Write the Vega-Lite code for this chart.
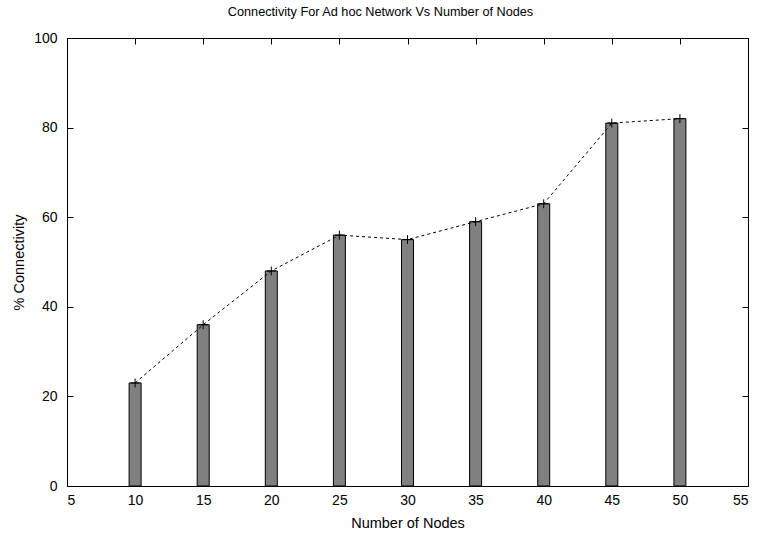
{
  "$schema": "https://vega.github.io/schema/vega-lite/v6.json",
  "autosize": {"type": "none"},
  "padding": {"left": 67, "top": 38, "right": 12, "bottom": 48},
  "width": 681,
  "height": 448,
  "background": "white",
  "title": {"text": "Connectivity For Ad hoc Network Vs Number of Nodes", "font": "Liberation Sans", "fontSize": 12.7, "fontWeight": "normal", "color": "black", "offset": 12, "dx": -27},
  "config": {
    "view": {"stroke": "black", "strokeWidth": 1},
    "axis": {"labelFont": "Liberation Sans", "titleFont": "Liberation Sans", "labelFontSize": 14, "titleFontSize": 14.5, "titleFontWeight": "normal", "labelColor": "black", "titleColor": "black", "domainColor": "black", "tickColor": "black", "grid": false}
  },
  "data": {"values": [
    {"nodes": 10, "conn": 23},
    {"nodes": 15, "conn": 36},
    {"nodes": 20, "conn": 48},
    {"nodes": 25, "conn": 56},
    {"nodes": 30, "conn": 55},
    {"nodes": 35, "conn": 59},
    {"nodes": 40, "conn": 63},
    {"nodes": 45, "conn": 81},
    {"nodes": 50, "conn": 82}
  ]},
  "resolve": {"axis": {"x": "independent", "y": "independent"}},
  "layer": [
    {
      "mark": {"type": "bar", "orient": "vertical", "size": 12, "fill": "#808080", "stroke": "black", "strokeWidth": 1},
      "encoding": {
        "x": {"field": "nodes", "type": "quantitative", "scale": {"domain": [5, 55], "nice": false, "zero": false, "padding": 0}, "axis": {"values": [5,10,15,20,25,30,35,40,45,50,55], "tickSize": -6, "labelPadding": 13, "title": "Number of Nodes", "titlePadding": 9}},
        "y": {"field": "conn", "type": "quantitative", "scale": {"domain": [0, 100], "nice": false, "padding": 0}, "axis": {"values": [0,20,40,60,80,100], "tickSize": -6, "labelPadding": 16, "title": "% Connectivity", "titlePadding": 7}}
      }
    },
    {
      "mark": {"type": "line", "stroke": "black", "strokeWidth": 1, "strokeDash": [3, 3]},
      "encoding": {
        "x": {"field": "nodes", "type": "quantitative", "axis": {"orient": "top", "values": [5,10,15,20,25,30,35,40,45,50,55], "tickSize": -6, "labels": false, "title": null, "domain": false}},
        "y": {"field": "conn", "type": "quantitative", "axis": {"orient": "right", "values": [0,20,40,60,80,100], "tickSize": -6, "labels": false, "title": null, "domain": false}}
      }
    },
    {
      "mark": {"type": "point", "shape": "M-1,0L1,0M0,-1L0,1", "size": 80, "stroke": "black", "strokeWidth": 1, "filled": false, "opacity": 1},
      "encoding": {
        "x": {"field": "nodes", "type": "quantitative", "axis": null},
        "y": {"field": "conn", "type": "quantitative", "axis": null}
      }
    }
  ]
}
